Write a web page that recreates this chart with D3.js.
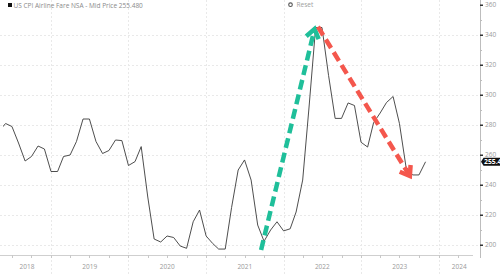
<!DOCTYPE html>
<html><head><meta charset="utf-8">
<script src="https://cdn.jsdelivr.net/npm/d3@7"></script>
<style>
html,body{margin:0;padding:0;background:#fff;}
svg{display:block;font-family:"Open Sans",sans-serif;}
</style></head>
<body><svg id="c" width="500" height="274"></svg>
<script>
// ---- data ----
const months = ["2018-05","2018-06","2018-07","2018-08","2018-09","2018-10","2018-11","2018-12",
"2019-01","2019-02","2019-03","2019-04","2019-05","2019-06","2019-07","2019-08","2019-09","2019-10","2019-11","2019-12",
"2020-01","2020-02","2020-03","2020-04","2020-05","2020-06","2020-07","2020-08","2020-09","2020-10","2020-11","2020-12",
"2021-01","2021-02","2021-03","2021-04","2021-05","2021-06","2021-07","2021-08","2021-09","2021-10","2021-11","2021-12",
"2022-01","2022-02","2022-03","2022-04","2022-05","2022-06","2022-07","2022-08","2022-09","2022-10","2022-11","2022-12",
"2023-01","2023-02","2023-03","2023-04","2023-05","2023-06","2023-07","2023-08","2023-09","2023-10","2023-11"];
const values = [276,281,279,268,256,259,266,264,
249,249,259,260,269,284,284,269,261,263,270,269.6,
253,255.6,265.6,232,204,202,206,205,199.3,197.8,215.5,223.3,
206,201,197.3,197.3,225,250,256.7,243.3,213.3,202.5,210,215.5,
209.4,210.8,222,243.3,292,345,345,313,284.4,284.4,294.7,293,
268.5,265.3,281.5,288,295,299,281,252,246.7,246.7,255.48];
const yTicks = [200,220,240,260,280,300,320,340,360];
const yMinorTicks = [210,230,250,270,290,310,330,350];
const yearLabels = ["2018","2019","2020","2021","2022","2023","2024"];
const seriesName = "US CPI Airline Fare NSA - Mid Price 255.480";
const lastLabel = "255.48";
// annotation arrows: [startDate, startValue, endDate, endValue]
const greenArrow = ["2021-09-17",196.7,"2022-05-27",344];
const redArrow = ["2022-06-12",345.5,"2023-08-19",246];

// ---- layout ----
const W=500,H=274, plotL=3, plotR=480, axisY=255;
const parse = d3.utcParse("%Y-%m");
const parseD = d3.utcParse("%Y-%m-%d");
const data = months.map((m,i)=>({d:parse(m), v:values[i]}));

const x = d3.scaleUtc().domain([parseD("2019-01-01"), parseD("2024-01-01")]).range([51, 438.5]);
const y = d3.scaleLinear().domain([200,360]).range([245,5]);

const svg = d3.select("#c");
svg.append("defs").append("clipPath").attr("id","clip")
  .append("rect").attr("x",plotL).attr("y",0).attr("width",plotR-plotL).attr("height",axisY);

// grid
const gridCol="#e9e9e9";
svg.append("g").selectAll("line").data(yTicks.filter(t=>t<360)).join("line")
  .attr("x1",0).attr("x2",plotR).attr("y1",d=>Math.round(y(d))+0.5).attr("y2",d=>Math.round(y(d))+0.5)
  .attr("stroke",gridCol).attr("stroke-dasharray","2,2");
const yearStarts = yearLabels.map(yy=>parseD(yy+"-01-01"));
svg.append("g").selectAll("line").data(yearStarts.filter(d=>x(d)>plotL+5)).join("line")
  .attr("x1",d=>Math.round(x(d))+0.5).attr("x2",d=>Math.round(x(d))+0.5).attr("y1",0).attr("y2",H)
  .attr("stroke",gridCol).attr("stroke-dasharray","2,2");

// x axis
svg.append("line").attr("x1",0).attr("x2",473).attr("y1",axisY+0.5).attr("y2",axisY+0.5).attr("stroke","#cfcfcf");
const qTicks = d3.utcMonth.every(3).range(parseD("2018-04-01"), parseD("2024-08-01"))
  .filter(d=>x(d)>=0 && x(d)<=473);
svg.append("g").selectAll("line").data(qTicks).join("line")
  .attr("x1",d=>Math.round(x(d))+0.5).attr("x2",d=>Math.round(x(d))+0.5).attr("y1",axisY).attr("y2",axisY+3)
  .attr("stroke","#c8c8c8");
svg.append("g").selectAll("text").data(yearLabels).join("text")
  .attr("x",(d,i)=>{const a=Math.max(plotL,x(yearStarts[i])); const b=Math.min(plotR,x(d3.utcYear.offset(yearStarts[i],1))); return (a+b)/2;})
  .attr("y",269).attr("text-anchor","middle").attr("font-size",6.5).attr("fill","#9a9a9a").text(d=>d);

// y axis
svg.append("line").attr("x1",plotR+0.5).attr("x2",plotR+0.5).attr("y1",0).attr("y2",258).attr("stroke","#bdbdbd");
svg.append("g").selectAll("line").data(yMinorTicks).join("line")
  .attr("x1",plotR).attr("x2",plotR+2).attr("y1",d=>Math.round(y(d))+0.5).attr("y2",d=>Math.round(y(d))+0.5)
  .attr("stroke","#bdbdbd");
svg.append("g").selectAll("rect").data(yTicks).join("rect")
  .attr("x",plotR).attr("y",d=>Math.round(y(d))-0.5).attr("width",3).attr("height",1.5).attr("fill","#333");
svg.append("g").selectAll("text").data(yTicks).join("text")
  .attr("x",plotR+5).attr("y",d=>y(d)+2.3).attr("font-size",6.5).attr("fill","#9a9a9a").text(d=>d);

// series line
const line = d3.line().x(d=>x(d.d)).y(d=>y(d.v));
svg.append("path").datum(data).attr("clip-path","url(#clip)").attr("d",line)
  .attr("fill","none").attr("stroke","#3a3a3a").attr("stroke-width",0.9).attr("stroke-linejoin","round");

// annotation arrows
function arrow(a,color){
  const x1=x(parseD(a[0])),y1=y(a[1]),x2=x(parseD(a[2])),y2=y(a[3]);
  const ang=Math.atan2(y2-y1,x2-x1), L=11, sp=0.62;
  const g=svg.append("g");
  g.append("line").attr("x1",x1).attr("y1",y1).attr("x2",x2-Math.cos(ang)*3).attr("y2",y2-Math.sin(ang)*3)
    .attr("stroke",color).attr("stroke-width",4.5).attr("stroke-dasharray","10,5").attr("stroke-linecap","butt");
  const p = [[x2-L*Math.cos(ang-sp), y2-L*Math.sin(ang-sp)],[x2,y2],[x2-L*Math.cos(ang+sp), y2-L*Math.sin(ang+sp)]];
  g.append("path").attr("d",d3.line()(p)).attr("fill","none").attr("stroke",color).attr("stroke-width",4.5)
    .attr("stroke-linejoin","miter").attr("stroke-linecap","butt");
}
arrow(greenArrow,"#1fbf9a");
arrow(redArrow,"#f4574d");

// last price tag
const ly=y(values[values.length-1]);
svg.append("path").attr("d",`M${plotR+1},${ly} L${plotR+3.5},${ly-4} L${W},${ly-4} L${W},${ly+4} L${plotR+3.5},${ly+4} Z`).attr("fill","#111");
svg.append("text").attr("x",plotR+4).attr("y",ly+2.4).attr("font-size",6.8).attr("font-weight","bold").attr("fill","#fff").text(lastLabel);

// header legend
svg.append("rect").attr("x",8).attr("y",3).attr("width",4).attr("height",4).attr("fill","#111");
svg.append("text").attr("x",13.5).attr("y",7.5).attr("font-size",6.5).attr("fill","#8a8a8a").text(seriesName);
svg.append("circle").attr("cx",290.5).attr("cy",4.7).attr("r",1.8).attr("fill","none").attr("stroke","#555").attr("stroke-width",1.1);
svg.append("text").attr("x",296.5).attr("y",7.2).attr("font-size",6.5).attr("fill","#a0a0a0").text("Reset");
</script></body></html>
